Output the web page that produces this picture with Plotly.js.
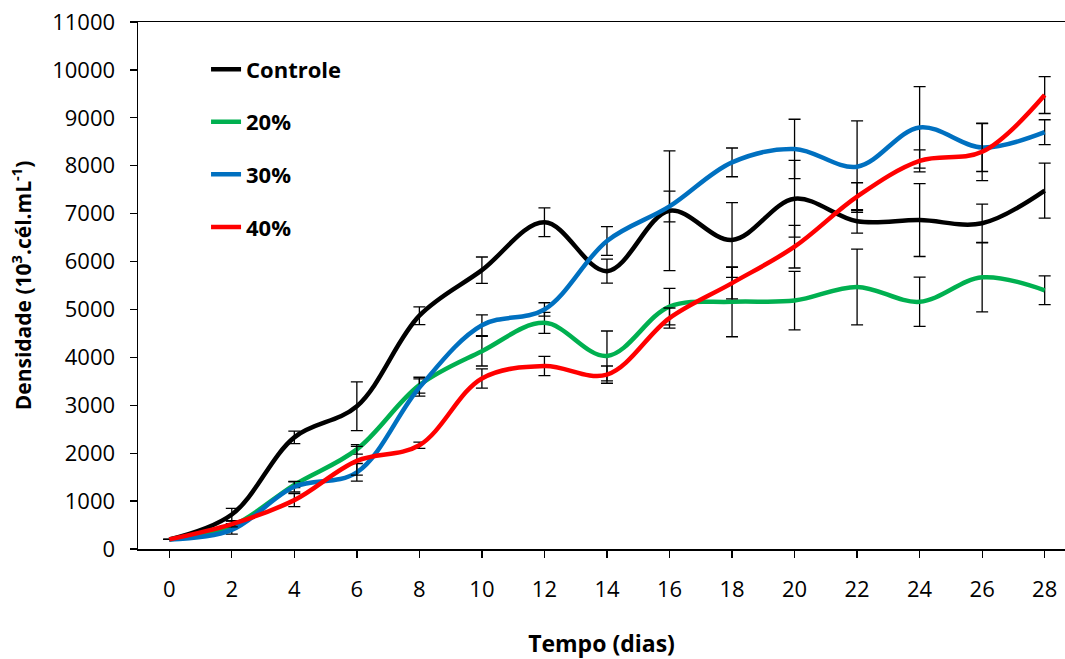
<!DOCTYPE html>
<html>
<head>
<meta charset="utf-8">
<script src="https://cdn.plot.ly/plotly-3.0.1.min.js"></script>
<style>html,body{margin:0;padding:0;background:#fff;overflow:hidden;}</style>
</head>
<body>
<div id="chart" style="width:1065px;height:659px;"></div>
<script>
const days = [0, 2, 4, 6, 8, 10, 12, 14, 16, 18, 20, 22, 24, 26, 28];
const seriesNames = ["Controle", "20%", "30%", "40%"];

const controle    = [200, 720, 2330, 2980, 4870, 5820, 6820, 5800, 7060, 6450, 7310, 6840, 6865, 6800, 7480];
const controleErr = [0, 130, 130, 510, 185, 275, 300, 250, 1250, 780, 800, 245, 760, 400, 575];

const p20    = [200, 480, 1340, 2080, 3420, 4130, 4720, 4030, 5060, 5160, 5185, 5470, 5160, 5670, 5400];
const p20Err = [0, 50, 60, 100, 165, 310, 220, 520, 380, 730, 610, 790, 515, 720, 300];

const p30    = [200, 400, 1300, 1600, 3370, 4670, 5000, 6430, 7150, 8070, 8350, 7980, 8800, 8380, 8700];
const p30Err = [0, 90, 110, 185, 180, 215, 140, 300, 320, 300, 620, 955, 850, 500, 260];

const p40    = [200, 520, 1020, 1840, 2165, 3560, 3820, 3640, 4820, 5550, 6310, 7355, 8100, 8290, 9475];
const p40Err = [0, 60, 135, 300, 65, 200, 200, 180, 210, 330, 445, 290, 230, 600, 385];

const yTicks = [0, 1000, 2000, 3000, 4000, 5000, 6000, 7000, 8000, 9000, 10000, 11000];
const yTickText = ["0", "1000", "2000", "3000", "4000", "5000", "6000", "7000", "8000", "9000", "10000", "11000"];
const xTickText = ["0", "2", "4", "6", "8", "10", "12", "14", "16", "18", "20", "22", "24", "26", "28"];

const values = [controle, p20, p30, p40];
const errors = [controleErr, p20Err, p30Err, p40Err];
const colors = ["#000000", "#00B050", "#0070C0", "#FF0000"];

const FONT = "'Open Sans', 'Liberation Sans', sans-serif";

const traces = seriesNames.map((name, i) => ({
  x: days,
  y: values[i],
  name: name,
  type: "scatter",
  mode: "lines",
  legendgroup: "g" + i,
  line: {color: colors[i], width: 4.5, shape: "spline", smoothing: 1},
  error_y: {type: "data", array: errors[i], visible: true, color: "#000000", thickness: 1.3, width: 6}
}));

const layout = {
  width: 1065,
  height: 659,
  margin: {l: 138, r: 0, t: 22, b: 110},
  paper_bgcolor: "#ffffff",
  plot_bgcolor: "#ffffff",
  font: {family: FONT, size: 22, color: "#000000"},
  showlegend: true,
  legend: {
    x: 0.0734, y: 0.95, xanchor: "left", yanchor: "top",
    bgcolor: "rgba(0,0,0,0)",
    font: {family: FONT, size: 22, color: "#000000", weight: "bold"},
    tracegroupgap: 21,
    traceorder: "grouped"
  },
  xaxis: {
    range: [-1, 28.65],
    tickvals: days,
    ticktext: xTickText,
    ticks: "outside",
    ticklen: 7,
    tickwidth: 1.3,
    tickcolor: "#000000",
    showline: true,
    linecolor: "#000000",
    linewidth: 1.5,
    mirror: true,
    showgrid: false,
    zeroline: false,
    ticklabelstandoff: 13,
    tickfont: {family: FONT, size: 22},
    title: {text: "Tempo (dias)", font: {family: FONT, size: 23, weight: "bold"}, standoff: 38}
  },
  yaxis: {
    range: [0, 11000],
    tickvals: yTicks,
    ticktext: yTickText,
    ticks: "outside",
    ticklen: 7,
    tickwidth: 1.3,
    tickcolor: "#000000",
    showline: true,
    linecolor: "#000000",
    linewidth: 1.5,
    showgrid: false,
    zeroline: false,
    ticklabelstandoff: 10,
    tickfont: {family: FONT, size: 22},
    title: {text: "Densidade (10<sup>3</sup>.cél.mL<sup>-1</sup>)", font: {family: FONT, size: 21, weight: "bold"}, standoff: 15}
  }
};

Plotly.newPlot("chart", traces, layout, {displayModeBar: false, staticPlot: true});
</script>
</body>
</html>
